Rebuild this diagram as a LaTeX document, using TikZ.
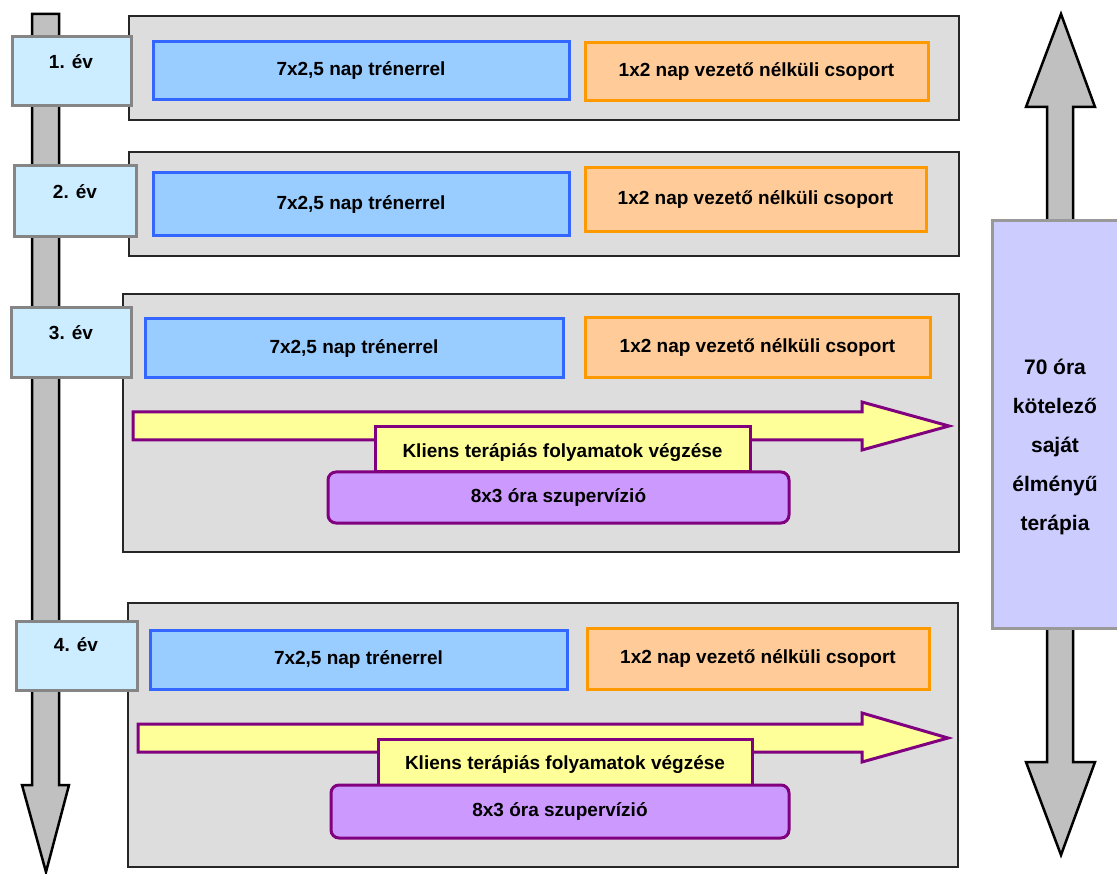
\documentclass[tikz,border=0pt]{standalone}
\usepackage{fontspec}
\setmainfont{Liberation Sans}
\definecolor{grpfill}{HTML}{DDDDDD}
\definecolor{yrfill}{HTML}{CCECFF}
\definecolor{yrdraw}{HTML}{858585}
\definecolor{bluefill}{HTML}{99CCFF}
\definecolor{bluedraw}{HTML}{3366FF}
\definecolor{orfill}{HTML}{FFCC99}
\definecolor{ordraw}{HTML}{FF9900}
\definecolor{yelfill}{HTML}{FFFF99}
\definecolor{purdraw}{HTML}{800080}
\definecolor{purfill}{HTML}{CC99FF}
\definecolor{thfill}{HTML}{CCCCFF}
\definecolor{thdraw}{HTML}{999999}
\definecolor{arrfill}{HTML}{C0C0C0}
\newcommand{\bx}[7]{\node[#1, anchor=north west, minimum width={#5pt-#3pt}, minimum height={#6pt-#4pt}] (#2) at (#3,#4) {#7};}
\begin{document}
\begin{tikzpicture}[x=1pt,y=-1pt,
  every node/.style={font=\bfseries\fontsize{19}{22}\selectfont, inner sep=0pt, outer sep=0pt},
  grpbox/.style={fill=grpfill, draw=black!85, line width=1.8pt},
  yrbox/.style={fill=yrfill, draw=yrdraw, line width=3pt},
  bluebox/.style={fill=bluefill, draw=bluedraw, line width=3pt},
  orbox/.style={fill=orfill, draw=ordraw, line width=3pt},
  yelbox/.style={fill=yelfill, draw=purdraw, line width=3pt},
  purbox/.style={fill=purfill, draw=purdraw, line width=3pt, rounded corners=8pt},
  thbox/.style={fill=thfill, draw=thdraw, line width=3pt},
  grayarrow/.style={fill=arrfill, draw=black, line width=2.5pt, line join=miter},
  yelarrow/.style={fill=yelfill, draw=purdraw, line width=3pt, line join=miter},
  lbl/.style={anchor=center}]
\useasboundingbox (0,0) rectangle (1117,874);

% left timeline arrow
\draw[grayarrow] (32,14) -- (59,14) -- (59,785) -- (69,785) -- (46,872) -- (22,785) -- (32,785) -- cycle;

% right double arrow
\draw[grayarrow] (1061,14) -- (1095,107) -- (1073,107) -- (1073,762) -- (1095,762) -- (1061,855) -- (1026,762) -- (1047,762) -- (1047,107) -- (1026,107) -- cycle;
\bx{thbox}{th}{992}{221}{1125}{628}{}
\node[align=center, font=\bfseries\fontsize{21}{39}\selectfont] (thtext) at (1055,447) {70 óra\\kötelező\\saját\\élményű\\terápia};

% group 1
\bx{grpbox}{g1}{129}{16}{959}{120}{}
\bx{bluebox}{b1}{153}{42}{569}{100}{7x2,5 nap trénerrel}
\bx{orbox}{o1}{585}{43}{928}{101}{1x2 nap vezető nélküli csoport}
\bx{yrbox}{y1}{12}{37}{131}{106}{}
\node[lbl] (t1) at (71,62) {1. év};

% group 2
\bx{grpbox}{g2}{129}{152}{959}{256}{}
\bx{bluebox}{b2}{153}{173}{569}{236}{7x2,5 nap trénerrel}
\bx{orbox}{o2}{585}{168}{926}{232}{1x2 nap vezető nélküli csoport}
\bx{yrbox}{y2}{14}{166}{136}{237}{}
\node[lbl] (t2) at (75,192) {2. év};

% group 3
\bx{grpbox}{g3}{123}{294}{959}{552}{}
\bx{bluebox}{b3}{145}{319}{563}{378}{7x2,5 nap trénerrel}
\bx{orbox}{o3}{585}{318}{930}{378}{1x2 nap vezető nélküli csoport}
\draw[yelarrow] (133,412) -- (862,412) -- (862,402) -- (949,426) -- (862,450) -- (862,440) -- (133,440) -- cycle;
\bx{yelbox}{k3}{375}{427}{750}{472}{}
\node[lbl] (kt3) at (562.5,453) {Kliens terápiás folyamatok végzése};
\bx{purbox}{p3}{328}{472}{789}{523}{8x3 óra szupervízió}
\bx{yrbox}{y3}{11}{308}{131}{378}{}
\node[lbl] (t3) at (71,333) {3. év};

% group 4
\bx{grpbox}{g4}{128}{603}{958}{867}{}
\bx{bluebox}{b4}{150}{630}{567}{689}{7x2,5 nap trénerrel}
\bx{orbox}{o4}{587}{628}{929}{689}{1x2 nap vezető nélküli csoport}
\draw[yelarrow] (138,724) -- (862,724) -- (862,713) -- (948,738) -- (862,762) -- (862,752) -- (138,752) -- cycle;
\bx{yelbox}{k4}{378}{739}{752}{785}{}
\node[lbl] (kt4) at (565,765) {Kliens terápiás folyamatok végzése};
\bx{purbox}{p4}{331}{785}{789}{838}{8x3 óra szupervízió}
\bx{yrbox}{y4}{16}{621}{137}{690}{}
\node[lbl] (t4) at (76,645) {4. év};
\end{tikzpicture}
\end{document}
